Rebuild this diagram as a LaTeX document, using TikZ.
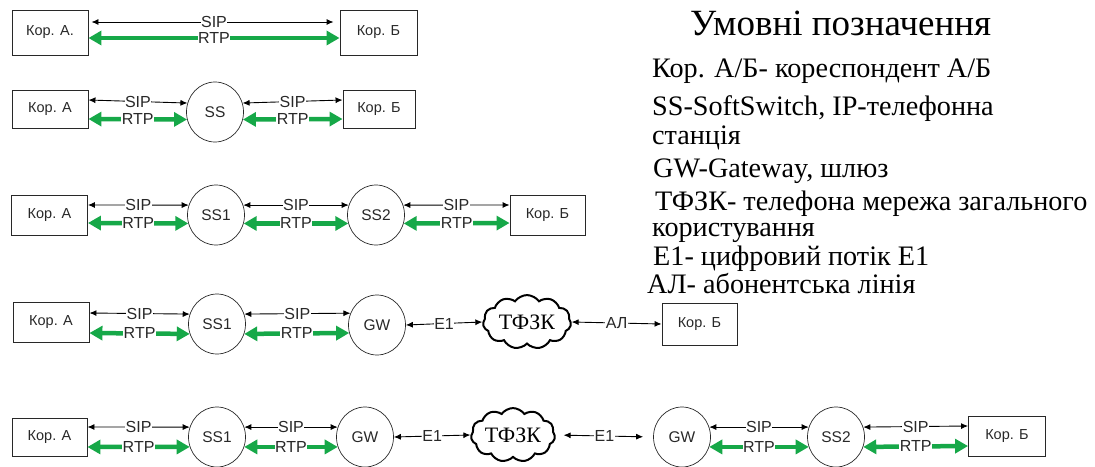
\documentclass[tikz,border=0pt]{standalone}
\usepackage{fontspec}
\newfontfamily\arialf{Liberation Sans}
\newfontfamily\tnrf{Liberation Serif}
\usetikzlibrary{arrows.meta,shapes.geometric,shapes.symbols}
\definecolor{rtpgreen}{RGB}{22,168,72}
\definecolor{ink}{RGB}{40,40,40}
\begin{document}
\begin{tikzpicture}[x=1pt,y=-1pt,
  box/.style={draw=ink,line width=0.9pt,minimum width=76pt,minimum height=40pt,inner sep=0pt,font=\arialf\fontsize{14.5}{16}\selectfont,text=ink},
  circ/.style={ellipse,draw=ink,line width=0.7pt,minimum width=57pt,minimum height=60pt,inner sep=0pt,font=\arialf\fontsize{15.5}{16}\selectfont,text=ink},
  tfzk/.style={cloud,cloud puffs=11,cloud puff arc=110,aspect=1.8,draw=black,line width=2pt,minimum width=88pt,minimum height=52pt,inner sep=0pt,font=\tnrf\fontsize{22}{24}\selectfont},
  sip/.style={draw=black,line width=0.9pt,{Latex[length=7pt,width=6pt]}-{Latex[length=7pt,width=6pt]}},
  rtp/.style={draw=rtpgreen,line width=4.5pt,{Triangle[length=13pt,width=14pt]}-{Triangle[length=13pt,width=14pt]}},
  lab/.style={fill=white,inner sep=0.5pt,font=\arialf\fontsize{16}{17}\selectfont,text=ink},
  leg/.style={anchor=base west,inner sep=0pt,font=\tnrf\fontsize{28.2}{30}\selectfont}
]
\useasboundingbox (0,0) rectangle (1095,466);

% ---------- row 1
\node[box,minimum height=45pt] (a1) at (50,32.5) {Кор. А.};
\node[box,minimum height=45pt,minimum width=77pt] (b1) at (378.5,32.5) {Кор. Б};
\draw[sip,shorten <=3pt,shorten >=6pt] ([yshift=10.5pt]a1.east) -- node[lab]{SIP} ([yshift=10.5pt]b1.west);
\draw[rtp] ([yshift=-5.5pt]a1.east) -- node[lab]{RTP} ([yshift=-5.5pt]b1.west);

% ---------- row 2
\node[box,minimum height=38pt] (a2) at (50,109) {Кор. А};
\node[circ] (s2) at (215,112) {SS};
\node[box,minimum height=38pt,minimum width=72pt] (b2) at (379,109) {Кор. Б};
\draw[sip] ([yshift=9pt]a2.east) -- node[lab]{SIP} (s2.162);
\draw[rtp] ([yshift=-10pt]a2.east) -- node[lab]{RTP} (s2.195);
\draw[sip] (s2.18) -- node[lab]{SIP} ([yshift=9pt]b2.west);
\draw[rtp] (s2.345) -- node[lab]{RTP} ([yshift=-10pt]b2.west);

% ---------- row 3
\node[box] (a3) at (49.5,215) {Кор. А};
\node[circ] (s31) at (216,215) {SS1};
\node[circ] (s32) at (376,215) {SS2};
\node[box,minimum width=75pt] (b3) at (547.5,215) {Кор. Б};
\draw[sip] ([yshift=10pt]a3.east) -- node[lab]{SIP} (s31.160);
\draw[rtp] ([yshift=-8pt]a3.east) -- node[lab]{RTP} (s31.197);
\draw[sip] (s31.20) -- node[lab]{SIP} (s32.160);
\draw[rtp] (s31.343) -- node[lab]{RTP} (s32.197);
\draw[sip] (s32.20) -- node[lab]{SIP} ([yshift=10pt]b3.west);
\draw[rtp] (s32.343) -- node[lab]{RTP} ([yshift=-8pt]b3.west);

% ---------- row 4
\node[box] (a4) at (51,322) {Кор. А};
\node[circ] (s41) at (217,324) {SS1};
\node[circ] (g4) at (377,325) {GW};
\node[tfzk] (t4) at (527,322) {ТФЗК};
\node[box,minimum width=75pt,minimum height=42pt] (b4) at (699.5,324) {Кор. Б};
\draw[sip] ([yshift=9pt]a4.east) -- node[lab]{SIP} (s41.160);
\draw[rtp] ([yshift=-11pt]a4.east) -- node[lab]{RTP} (s41.200);
\draw[sip] (s41.20) -- node[lab]{SIP} (g4.156);
\draw[rtp] (s41.340) -- node[lab]{RTP} (g4.196);
\draw[sip] (g4.east) -- node[lab]{E1} (t4.west);
\draw[sip] (t4.east) -- node[lab]{АЛ} (b4.west);

% ---------- row 5
\node[box,minimum width=75pt,minimum height=38pt] (a5) at (49.5,437) {Кор. А};
\node[circ] (s51) at (217,437) {SS1};
\node[circ] (g51) at (365,437) {GW};
\node[tfzk,minimum width=84pt,minimum height=46pt] (t5) at (513,435) {ТФЗК};
\node[circ] (g52) at (682,437) {GW};
\node[circ] (s52) at (836,437) {SS2};
\node[box,minimum width=77pt] (b5) at (1007,436) {Кор. Б};
\draw[sip] ([yshift=10pt]a5.east) -- node[lab]{SIP} (s51.160);
\draw[rtp] ([yshift=-10pt]a5.east) -- node[lab]{RTP} (s51.200);
\draw[sip] (s51.20) -- node[lab]{SIP} (g51.160);
\draw[rtp] (s51.340) -- node[lab]{RTP} (g51.200);
\draw[sip] (g51.east) -- node[lab]{E1} (t5.west);
\draw[sip,shorten <=8pt,shorten >=10pt] (t5.east) -- node[lab]{E1} (g52.west);
\draw[sip] (g52.20) -- node[lab]{SIP} (s52.160);
\draw[rtp] (g52.340) -- node[lab]{RTP} (s52.200);
\draw[sip] (s52.20) -- node[lab]{SIP} ([yshift=10pt]b5.west);
\draw[rtp] (s52.340) -- node[lab]{RTP} ([yshift=-10pt]b5.west);

% ---------- legend
\node[leg,font=\tnrf\fontsize{37}{39}\selectfont] (lt) at (690,35) {Умовні позначення};
\node[leg] (l1) at (652,77) {Кор. А/Б- кореспондент А/Б};
\node[leg] (l2) at (652,115) {SS-SoftSwitch, IP-телефонна};
\node[leg] (l3) at (652,144) {станція};
\node[leg] (l4) at (653,177) {GW-Gateway, шлюз};
\node[leg] (l5) at (655,210) {ТФЗК- телефона мережа загального};
\node[leg] (l6) at (652,236) {користування};
\node[leg] (l7) at (653,265) {Е1- цифровий потік Е1};
\node[leg] (l8) at (647,293) {АЛ- абонентська лінія};
\end{tikzpicture}
\end{document}
